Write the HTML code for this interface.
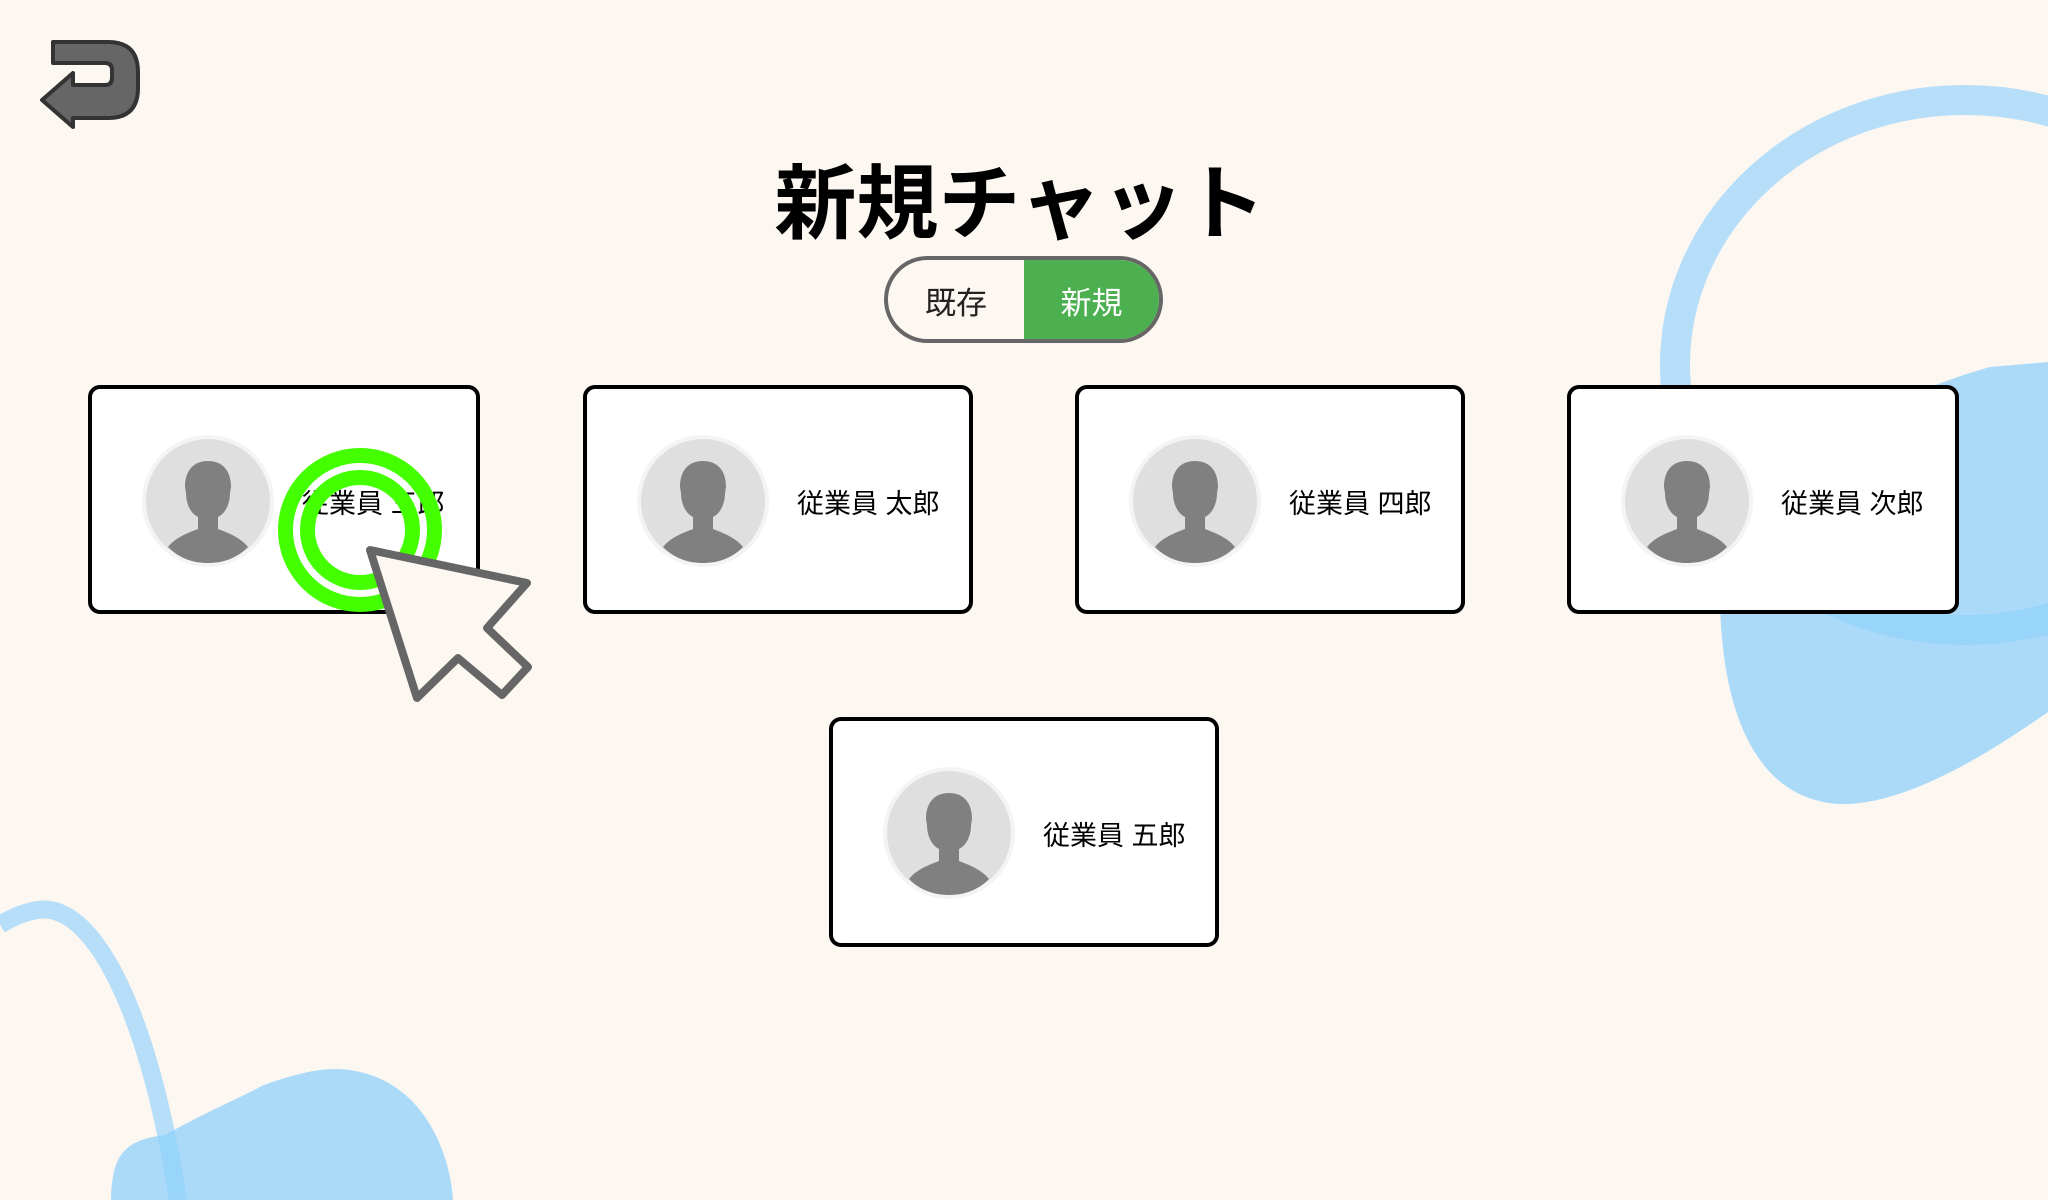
<!DOCTYPE html>
<html><head><meta charset="utf-8"><style>
html,body{margin:0;padding:0;}
body{width:2048px;height:1200px;background:#fdf7f1;position:relative;overflow:hidden;font-family:"Liberation Sans","Noto Sans CJK JP",sans-serif;}
.abs{position:absolute;}
.title{left:0;width:2040px;top:150px;text-align:center;font-size:82px;font-weight:bold;line-height:110px;color:#000;}
.toggle{left:884px;top:256px;width:271px;height:79px;border:4px solid #666;border-radius:44px;overflow:hidden;background:#fdf7f1;}
.toggle .l,.toggle .r{position:absolute;top:4px;height:79px;line-height:79px;font-size:31px;text-align:center;}
.toggle .l{left:0;width:136px;color:#222;}
.toggle .r{left:136px;top:0;padding-top:4px;width:135px;background:#4caf50;color:#fff;}
.card{width:392px;height:229px;border:4px solid #000;border-radius:12px;background:#fff;box-sizing:border-box;}
.card .name{position:absolute;left:210px;top:99px;font-size:27px;line-height:32px;color:#000;white-space:nowrap;}
.card svg{position:absolute;left:48px;top:44px;}
</style></head><body>
<svg class="abs" style="left:0;top:0" width="2048" height="1200">
  <ellipse cx="1965" cy="365" rx="290" ry="265" fill="none" stroke="#9fd6fb" stroke-opacity="0.75" stroke-width="30"/>
  <path d="M1720,600 C1720,540 1800,420 1990,367 L2048,362 L2048,712 C1980,760 1900,806 1840,804 C1760,800 1722,720 1720,600 Z" fill="#8fd0fb" fill-opacity="0.75"/>
  <path d="M0,925 C20,912 40,908 50,910 C100,918 150,1020 178,1200" fill="none" stroke="#9fd6fb" stroke-opacity="0.75" stroke-width="18"/>
  <path d="M111,1200 C112,1160 120,1140 165,1135 C200,1115 235,1100 264,1085 C300,1072 320,1069 337,1069 C420,1072 450,1150 453,1200 Z" fill="#8fd0fb" fill-opacity="0.75"/>
  <path d="M53,42 L108,42 Q138,42 138,72 L138,88 Q138,118 108,118 L73,118 L73,127 L42,100 L73,73 L73,85 L105,85 Q112,85 112,78 L112,70 Q112,63 105,63 L53,63 Z" fill="#666" stroke="#333" stroke-width="4" stroke-linejoin="round"/>
</svg>
<div class="abs title">新規チャット</div>
<div class="abs toggle"><div class="l">既存</div><div class="r">新規</div></div>

<div class="abs card" style="left:88px;top:385px"><svg width="136" height="136" viewBox="0 0 136 136"><circle cx="68" cy="68" r="66" fill="#f4f4f4"/><circle cx="68" cy="68" r="62" fill="#dfdfdf"/><path d="M28,114 C36,104 48,100 58,96 L58,84 C50,80 46,70 46,60 L45,54 C45,36 55,28 68,28 C81,28 91,36 91,54 L90,60 C90,70 86,80 78,84 L78,96 C88,100 100,104 108,114 C96,126 82,130 68,130 C54,130 40,126 28,114 Z" fill="#808080"/></svg><div class="name">従業員 三郎</div></div>
<div class="abs card" style="left:583px;top:385px;width:390px"><svg width="136" height="136" viewBox="0 0 136 136"><circle cx="68" cy="68" r="66" fill="#f4f4f4"/><circle cx="68" cy="68" r="62" fill="#dfdfdf"/><path d="M28,114 C36,104 48,100 58,96 L58,84 C50,80 46,70 46,60 L45,54 C45,36 55,28 68,28 C81,28 91,36 91,54 L90,60 C90,70 86,80 78,84 L78,96 C88,100 100,104 108,114 C96,126 82,130 68,130 C54,130 40,126 28,114 Z" fill="#808080"/></svg><div class="name">従業員 太郎</div></div>
<div class="abs card" style="left:1075px;top:385px;width:390px"><svg width="136" height="136" viewBox="0 0 136 136"><circle cx="68" cy="68" r="66" fill="#f4f4f4"/><circle cx="68" cy="68" r="62" fill="#dfdfdf"/><path d="M28,114 C36,104 48,100 58,96 L58,84 C50,80 46,70 46,60 L45,54 C45,36 55,28 68,28 C81,28 91,36 91,54 L90,60 C90,70 86,80 78,84 L78,96 C88,100 100,104 108,114 C96,126 82,130 68,130 C54,130 40,126 28,114 Z" fill="#808080"/></svg><div class="name">従業員 四郎</div></div>
<div class="abs card" style="left:1567px;top:385px"><svg width="136" height="136" viewBox="0 0 136 136"><circle cx="68" cy="68" r="66" fill="#f4f4f4"/><circle cx="68" cy="68" r="62" fill="#dfdfdf"/><path d="M28,114 C36,104 48,100 58,96 L58,84 C50,80 46,70 46,60 L45,54 C45,36 55,28 68,28 C81,28 91,36 91,54 L90,60 C90,70 86,80 78,84 L78,96 C88,100 100,104 108,114 C96,126 82,130 68,130 C54,130 40,126 28,114 Z" fill="#808080"/></svg><div class="name">従業員 次郎</div></div>
<div class="abs card" style="left:829px;top:717px;width:390px;height:230px"><svg width="136" height="136" viewBox="0 0 136 136"><circle cx="68" cy="68" r="66" fill="#f4f4f4"/><circle cx="68" cy="68" r="62" fill="#dfdfdf"/><path d="M28,114 C36,104 48,100 58,96 L58,84 C50,80 46,70 46,60 L45,54 C45,36 55,28 68,28 C81,28 91,36 91,54 L90,60 C90,70 86,80 78,84 L78,96 C88,100 100,104 108,114 C96,126 82,130 68,130 C54,130 40,126 28,114 Z" fill="#808080"/></svg><div class="name" style="top:99px">従業員 五郎</div></div>

<svg class="abs" style="left:0;top:0" width="2048" height="1200">
  <circle cx="360" cy="530" r="74.5" fill="none" stroke="#44ff00" stroke-width="15"/>
  <circle cx="360" cy="530" r="52.5" fill="none" stroke="#44ff00" stroke-width="15"/>
  <path d="M370,550 L527,583 L487,628 L528,667 L502,695 L458,658 L417,698 Z" fill="#fdf7f1" stroke="#666" stroke-width="8" stroke-linejoin="round"/>
</svg>
</body></html>
